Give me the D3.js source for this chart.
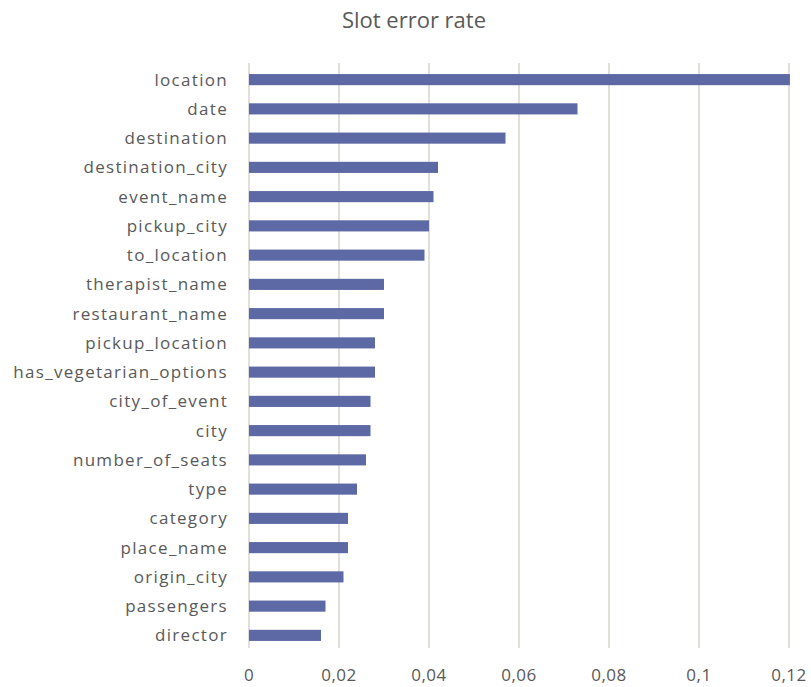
<!DOCTYPE html>
<html>
<head>
<meta charset="utf-8">
<script src="https://cdn.jsdelivr.net/npm/d3@7"></script>
<style>
  body { margin: 0; background: #fff; }
  text { font-family: "Open Sans", "Noto Sans", sans-serif; fill: #595959; }
</style>
</head>
<body>
<div id="chart"></div>
<script>
// slot names, top to bottom
var slots = ["location", "date", "destination", "destination_city", "event_name",
  "pickup_city", "to_location", "therapist_name", "restaurant_name", "pickup_location",
  "has_vegetarian_options", "city_of_event", "city", "number_of_seats", "type",
  "category", "place_name", "origin_city", "passengers", "director"];
var errorRates = [0.1202, 0.073, 0.057, 0.042, 0.041,
  0.040, 0.039, 0.030, 0.030, 0.028,
  0.028, 0.027, 0.027, 0.026, 0.024,
  0.022, 0.022, 0.021, 0.017, 0.016];
var xTicks = [0, 0.02, 0.04, 0.06, 0.08, 0.1, 0.12];

var data = slots.map(function(s, i) { return {slot: s, value: errorRates[i]}; });

var W = 811, H = 687;
var margin = {top: 65, right: 22, bottom: 37, left: 249};
var width = W - margin.left - margin.right;
var height = H - margin.top - margin.bottom;

var svg = d3.select("#chart").append("svg")
  .attr("width", W)
  .attr("height", H);

var g = svg.append("g")
  .attr("transform", "translate(" + margin.left + "," + margin.top + ")");

var x = d3.scaleLinear().domain([0, 0.12]).range([0, width]);
var y = d3.scaleBand().domain(slots).range([0, height])
  .paddingInner(0.62).paddingOuter(0.31);

// gridlines
g.selectAll(".grid")
  .data(xTicks)
  .enter().append("line")
  .attr("x1", function(d) { return x(d); })
  .attr("x2", function(d) { return x(d); })
  .attr("y1", -2)
  .attr("y2", height - 2)
  .style("stroke", "#d9d4ce")
  .style("stroke-width", 1.5);

// bars
g.selectAll(".bar")
  .data(data)
  .enter().append("rect")
  .attr("x", x(0))
  .attr("y", function(d) { return y(d.slot); })
  .attr("width", function(d) { return x(d.value) - x(0); })
  .attr("height", y.bandwidth())
  .style("fill", "#5d69a5");

// category labels
g.selectAll(".lab")
  .data(slots)
  .enter().append("text")
  .attr("x", -21)
  .attr("y", function(d) { return y(d) + y.bandwidth() / 2; })
  .attr("dy", "0.35em")
  .attr("text-anchor", "end")
  .style("font-size", "17px")
  .style("letter-spacing", "1.3px")
  .text(function(d) { return d; });

// x axis labels
var fmt = function(d) { return String(d).replace(".", ","); };
g.selectAll(".tick-lab")
  .data(xTicks)
  .enter().append("text")
  .attr("x", function(d) { return x(d); })
  .attr("y", height + 31)
  .attr("text-anchor", "middle")
  .style("font-size", "17px")
  .style("letter-spacing", "0.5px")
  .text(fmt);

// title
svg.append("text")
  .attr("x", 414)
  .attr("y", 28)
  .attr("text-anchor", "middle")
  .style("font-size", "22px")
  .text("Slot error rate");
</script>
</body>
</html>
